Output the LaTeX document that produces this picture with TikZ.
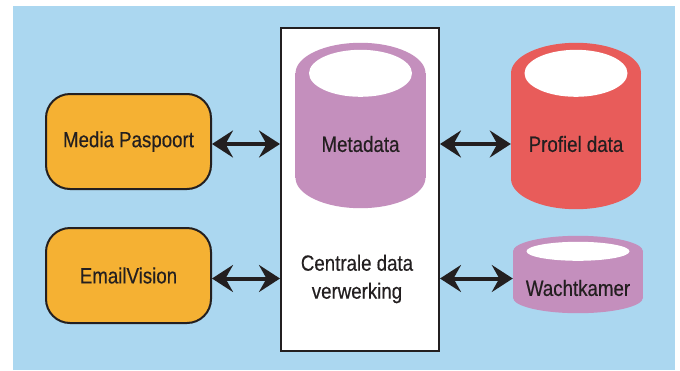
\documentclass[tikz,border=0pt]{standalone}
\usepackage{fontspec}
\setmainfont{Liberation Sans}[FakeStretch=0.85,FakeBold=0.4]
\usepackage{tikz}
\usetikzlibrary{arrows.meta,positioning,calc}

\definecolor{skyblue}{HTML}{ABD7F0}
\definecolor{boxorange}{HTML}{F5B133}
\definecolor{dbpurple}{HTML}{C48FBD}
\definecolor{dbred}{HTML}{E85C5A}
\definecolor{inkblack}{HTML}{231F20}

\tikzset{
  >={Stealth[length=21pt 0 0,width=27pt 0 0,inset=7.5pt]},
  lbl/.style={text=inkblack, font=\fontsize{22}{28}\selectfont, inner sep=0pt},
  srcbox/.style={lbl, draw=inkblack, line width=2pt, rounded corners=24pt,
    fill=boxorange, minimum width=165pt, minimum height=95pt},
  cylbox/.style={inner sep=0pt, minimum width=130pt},
  link/.style={draw=inkblack, line width=4pt, <->}
}

\begin{document}
\begin{tikzpicture}[x=1pt,y=-1pt]
\useasboundingbox (0,0) rectangle (680,370);
\fill[skyblue] (13,6) rectangle (675,370);

% centrale verwerking
\node[draw=inkblack, line width=2pt, fill=white, inner sep=0pt,
      minimum width=158pt, minimum height=323pt] (cen) at (360,189.5) {};

% bronnen
\node[srcbox] (mp) at (128.5,141.5) {Media Paspoort};
\node[srcbox] (ev) at (128.5,275.5) {EmailVision};

% databases
\node[cylbox, minimum height=165pt] (metacyl) at (360.5,125.5) {};
\node[cylbox, minimum height=166pt] (profcyl) at (576,126) {};
\node[cylbox, minimum height=77pt] (wachtcyl) at (578,274.5) {};
\foreach \c/\ry/\iry/\col in {metacyl/30.5/23.5/dbpurple,profcyl/30.5/23.5/dbred,wachtcyl/15.5/9.5/dbpurple}{
  \fill[\col] ($(\c.north)+(0,\ry)$) ellipse[x radius=65pt, y radius=\ry pt];
  \fill[\col] ($(\c.south)-(0,\ry)$) ellipse[x radius=65pt, y radius=\ry pt];
  \fill[\col] ($(\c.north west)+(0,\ry)$) rectangle ($(\c.south east)-(0,\ry)$);
  \fill[white] ($(\c.north)+(0,\ry)$) ellipse[x radius=51.5pt, y radius=\iry pt];
}

\node[lbl] (meta) at (360.5,144) {Metadata};
\node[lbl] (prof) at (576,144) {Profiel data};
\node[lbl] (wacht) at (578,288) {Wachtkamer};
\node[lbl, align=center] (cenlbl) at (357,279) {Centrale data\\verwerking};

% koppelingen
\draw[link] (mp.east |- meta) -- (cen.west |- meta);
\draw[link] ($(ev.east)+(0,3)$) -- ($(ev.east -| cen.west)+(0,3)$);
\draw[link] (cen.east |- meta) -- (profcyl.west |- meta);
\draw[link] ($(ev.east -| cen.east)+(0,3)$) -- ($(ev.east -| wachtcyl.west)+(0,3)$);
\end{tikzpicture}
\end{document}
